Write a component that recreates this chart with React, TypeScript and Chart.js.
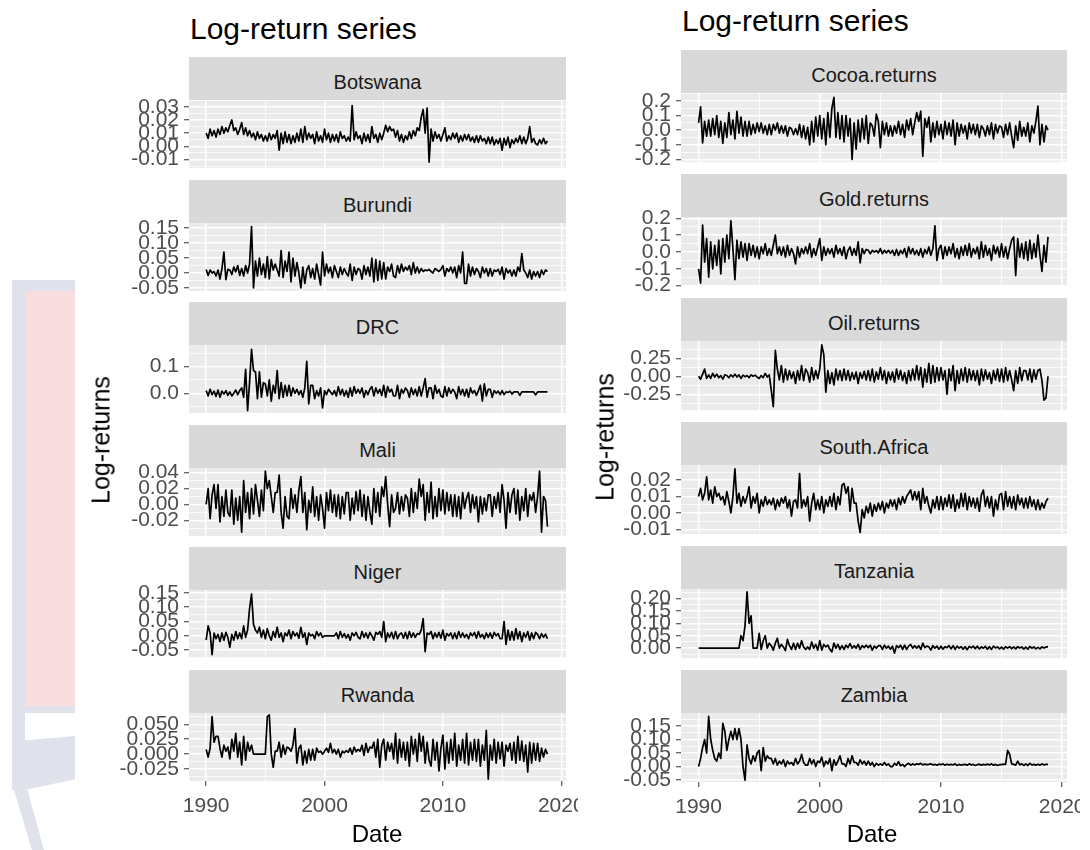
import React, { useEffect, useRef } from 'react';
import { Chart, registerables } from 'chart.js';

Chart.register(...registerables);

// ---------------- DATA (bi-monthly samples, Jan 1990 – Nov 2018) ----------------
const sampleDates: number[] = Array.from({ length: 174 }, (_, i) => 1990 + i / 6);

const xMajorTicks = [1990, 2000, 2010, 2020];
const xMinorTicks = [1995, 2005, 2015];

const botswana = [
  .010, .006, .013, .008, .012, .007, .013, .009, .015, .010, .014, .011,
  .016, .020, .012, .014, .009, .013, .018, .009, .014, .008, .012, .007,
  .010, .005, .011, .006, .009, .004, .008, .004, .010, .005, .009, .006,
  .012, -.003, .010, .002, .011, .003, .009, .002, .008, .003, .010, .004,
  .013, .003, .015, .005, .010, .006, .009, .002, .011, .004, .008, .003,
  .013, .005, .010, .003, .009, .004, .009, .003, .011, .006, .008, .004,
  .007, .004, .031, .005, .011, .006, .008, .002, .010, .004, .009, .003,
  .015, .006, .009, .003, .010, .005, .010, .016, .011, .015, .012, .013,
  .007, .012, .004, .009, .003, .008, .005, .011, .006, .012, .008, .014,
  .012, .022, .028, .010, .029, -.012, .013, .004, .011, .006, .009, .004,
  .009, .014, .004, .008, .005, .010, .006, .010, .003, .008, .004, .009,
  .005, .009, .004, .007, .003, .008, .003, .008, .004, .006, .002, .007,
  .002, .007, .001, .005, .002, .006, -.003, .006, .001, .007, -.001, .005,
  .002, .006, .003, .008, .002, .007, .002, .006, .015, .003, .006, .002,
  .001, .005, .002, .006, .002, .004,
];
const burundi = [
  .012, -.008, .010, .000, .005, -.010, .010, -.020, .015, .070, -.022, .012,
  .010, -.005, .020, .004, .025, -.008, .015, -.010, .025, .000, .030, .155,
  -.050, .040, -.010, .050, -.005, .030, -.015, .055, -.020, .045, .010, .030,
  .010, -.010, .075, -.015, .040, .005, .070, -.030, .050, -.010, .035, .000,
  -.050, .020, -.035, .010, .025, -.015, .015, -.020, .030, -.005, -.040, .070,
  -.010, .030, .000, .020, -.015, .025, .005, -.015, .020, -.005, .015, .000,
  -.010, .030, -.025, .020, -.005, .015, .010, -.020, .025, -.005, .020, -.010,
  .050, -.030, .045, -.025, .040, -.020, .035, -.020, .020, .005, .030, -.010,
  -.015, .025, .000, .030, .005, .020, .010, .025, -.005, .035, .000, .020,
  .000, .015, .005, .010, .008, .012, .005, .000, .015, .010, .005, .012,
  .025, -.010, .015, .005, .020, .000, .020, -.015, .025, .000, .070, -.035,
  -.035, .030, -.010, .020, -.005, .015, .005, -.015, .020, .000, .015, -.010,
  .015, -.010, .010, .005, .012, -.005, .020, -.020, .015, .000, .010, -.010,
  .010, -.010, .020, .005, .065, .010, .000, -.015, .010, -.020, .005, -.010,
  .005, -.015, .010, -.005, .010, .005,
];
const drc = [
  .010, -.010, .015, -.005, .008, -.012, .012, -.015, .008, -.003, .010, -.008,
  .005, -.010, .000, .012, -.005, .010, .020, -.015, .090, -.065, .040, .165,
  .085, .080, -.020, .080, -.015, .040, .035, -.010, .050, -.030, .030, .000,
  .085, -.020, .040, -.015, .030, -.010, .030, -.010, .020, .000, .015, -.005,
  .010, -.015, .020, .120, -.040, .030, .030, -.020, .010, -.010, .020, -.055,
  .010, -.005, .015, .005, -.005, .010, -.010, .025, -.005, .015, -.010, .010,
  -.015, .020, -.010, .025, .000, .015, .000, .020, -.015, .010, -.005, .015,
  .025, -.010, .020, .000, .015, -.008, .030, -.015, .025, .005, .015, -.010,
  -.010, .030, -.020, .015, .000, .020, .010, -.015, .020, -.005, .015, -.010,
  .025, -.010, .020, .055, -.015, .020, .020, -.020, .030, .000, .015, -.010,
  -.015, .025, -.010, .020, .000, .015, .005, -.020, .025, -.005, .015, -.010,
  .015, -.015, .020, .000, .010, -.008, .010, .030, -.030, .035, -.010, .015,
  .015, -.015, .010, .000, .008, -.005, .010, -.005, .005, .003, .008, -.003,
  .005, .005, .005, -.008, .005, .005, .005, .005, .005, .005, .005, -.006,
  .005, .005, .005, .005, .005, .005,
];
const mali = [
  .000, .020, -.018, .012, .025, -.005, .025, -.022, .010, -.015, .018, -.010,
  -.015, .018, -.025, .008, -.020, .010, -.035, .030, -.010, .015, -.018, .020,
  -.012, .025, .005, -.015, .018, -.008, .042, .020, .030, .010, -.010, .015,
  .015, .037, -.010, -.030, .010, -.015, -.018, .020, -.005, .012, -.010, .018,
  .035, -.010, .015, -.032, .005, -.010, .022, -.015, .010, -.020, .012, -.005,
  -.030, .015, -.008, .018, -.010, .012, -.015, .012, -.018, .010, -.012, .015,
  .015, -.020, .008, -.012, .016, -.008, .018, -.015, .012, -.020, .010, -.010,
  -.025, .020, -.010, .015, -.015, .022, .010, .035, .000, -.028, .012, -.010,
  -.005, .015, -.012, .010, -.008, .012, .008, -.015, .020, -.010, .015, -.005,
  .032, .010, .025, -.020, .015, -.010, .028, -.018, .010, -.015, .020, -.008,
  .018, -.012, .015, -.008, .012, -.015, .012, -.015, .010, -.018, .015, -.005,
  .008, .015, -.010, .012, -.005, .010, -.022, .010, -.012, .008, -.008, .012,
  .012, -.015, .010, -.005, .015, -.010, .025, .005, -.030, .015, -.010, .012,
  .020, -.012, .018, -.020, .010, -.008, .020, -.015, .012, .005, .015, -.010,
  .010, .042, -.035, .010, .005, -.028,
];
const niger = [
  -.015, .035, .010, -.065, .010, -.010, .005, -.020, .010, -.015, .012, -.005,
  -.040, .005, -.015, .015, -.010, .010, -.010, .035, -.005, .020, .095, .145,
  .040, .020, .010, .030, -.005, .020, -.010, .025, .000, -.015, .015, -.005,
  .030, -.005, .010, -.020, .010, .000, .020, -.010, .015, .000, .010, -.008,
  .030, -.005, .010, -.030, .010, .000, .005, -.010, .015, .000, .010, -.005,
  .000, .000, .000, .000, .000, .000, .010, -.010, .015, -.005, .008, -.008,
  .005, -.015, .010, .000, .012, -.005, -.010, .015, -.005, .010, -.008, .012,
  .000, -.015, .012, .005, .015, -.005, .050, -.020, .010, -.005, .012, -.010,
  .015, -.010, .005, .010, -.008, .012, -.010, .015, -.005, .010, -.005, .008,
  .005, .020, .060, -.055, .010, .005, .015, -.010, .010, -.005, .012, -.008,
  .020, -.015, .008, .000, .010, -.010, .010, -.010, .015, -.005, .010, -.005,
  .005, -.010, .010, .000, .012, -.008, .015, -.005, .005, -.010, .010, -.005,
  .010, -.008, .012, .000, .008, -.010, -.010, .050, -.030, .020, -.015, .015,
  -.015, .025, -.010, .015, -.020, .010, -.005, .015, -.015, .010, -.010, .012,
  .005, -.010, .008, -.005, .006, -.010,
];
const rwanda = [
  .008, -.005, .010, .063, .020, .030, .030, .010, -.005, .015, .005, .012,
  -.008, .025, .005, .035, -.005, .020, -.018, .030, -.010, .020, .005, .015,
  .000, .000, .000, .000, .000, .000, .000, .063, .066, .000, -.022, .005,
  .005, .020, -.005, .015, .000, .012, .010, .005, .015, .043, -.015, .010,
  .015, -.018, .005, -.015, .008, -.010, .008, -.010, .010, .003, .005, .000,
  .005, .010, .003, .018, .002, .008, .000, .008, -.005, .005, .002, .006,
  .003, .010, .000, .012, .004, .008, .005, .015, -.002, .018, .003, .012,
  .010, .020, -.005, .025, -.022, .015, .025, -.010, .020, .005, .018, -.008,
  .035, -.015, .025, -.005, .020, -.010, .020, -.020, .030, .000, .025, -.012,
  .035, .005, .030, -.015, .020, -.010, -.020, .025, -.010, .020, -.028, .010,
  .032, -.025, .020, -.015, .025, -.010, .035, -.020, .015, -.010, .025, -.015,
  .035, -.018, .020, -.010, .025, -.012, .025, -.020, .015, -.010, .040, -.042,
  .015, -.010, .025, -.015, .020, -.008, .020, -.020, .015, .005, .018, -.010,
  .020, -.015, .030, -.010, .022, -.012, .015, -.030, .020, -.015, .018, -.010,
  .018, -.012, .010, -.005, .008, .000,
];
const cocoa = [
  .050, .160, -.087, .060, -.040, .070, -.040, .080, -.030, .100, -.050, .060,
  -.090, .050, -.050, .120, -.030, .070, -.060, .130, -.020, .090, -.040, .060,
  -.040, .060, -.030, .040, -.020, .050, -.010, .050, -.020, .030, -.030, .040,
  -.030, .040, .000, .050, -.020, .030, -.020, .030, -.040, .020, .010, -.030,
  .010, -.030, .040, -.050, .030, -.060, .020, -.100, .060, -.080, .090, -.040,
  .100, -.060, .080, -.100, .120, -.050, .150, .225, -.050, .120, -.060, .100,
  -.080, .100, -.040, .080, -.200, .050, -.130, .070, -.080, .080, -.060, .100,
  -.090, .050, .030, -.040, .110, .060, -.120, .060, -.030, .050, -.040, .030,
  -.040, .030, -.020, .060, -.030, .040, -.050, .070, .000, .080, -.030, .050,
  .120, .060, .130, -.180, .080, .020, .090, -.080, .050, -.050, .060, -.030,
  .040, -.060, .060, -.030, .050, -.040, .070, -.100, .050, -.040, .040, -.020,
  .030, -.060, .050, -.020, .040, -.030, .040, -.050, .030, .010, -.040, .030,
  -.030, .050, -.060, .040, -.020, .030, .020, -.050, .040, -.030, .050, -.040,
  -.120, .030, -.070, .060, -.040, .020, -.040, .050, -.080, .030, -.020, .060,
  .165, -.100, .040, -.080, .030, .000,
];
const gold = [
  -.100, -.185, .160, -.060, .080, -.150, .060, -.100, .040, -.080, .070, -.130,
  .080, -.060, .100, -.040, .185, .020, -.165, .070, -.040, .060, -.030, .050,
  -.050, .050, -.020, .040, -.030, .030, -.040, .030, -.010, .050, -.020, .020,
  -.020, .040, .100, -.010, .030, -.020, .030, -.030, .040, -.020, .020, -.010,
  -.070, .030, -.030, .020, -.010, .030, -.010, .050, -.030, .020, -.020, .030,
  .080, -.050, .030, -.020, .020, -.010, .020, -.030, .040, -.010, .020, -.020,
  .030, -.040, .010, .030, -.020, .020, -.020, .060, -.065, .020, -.010, .015,
  .010, -.010, .010, .000, .008, -.005, .020, -.010, .010, -.005, .010, -.008,
  .010, -.020, .015, -.020, .010, -.010, .020, -.030, .030, -.010, .020, -.015,
  .010, -.020, .020, -.030, .015, -.010, .030, -.020, .020, .155, -.050, .020,
  .040, -.040, .030, -.020, .030, -.010, .050, -.030, .020, -.040, .030, -.020,
  .040, -.020, .050, -.030, .020, -.010, .030, -.040, .060, -.030, .040, -.020,
  .020, -.050, .040, -.010, .030, -.030, .050, -.030, .030, -.040, .020, .070,
  .090, -.140, .080, -.030, .050, -.040, .060, -.050, .070, -.040, .050, -.030,
  .100, -.020, -.115, .040, -.060, .090,
];
const oil = [
  .000, -.040, .030, .100, -.030, .020, -.030, .040, -.010, .030, -.020, .010,
  -.040, .020, .010, -.020, .020, -.010, .030, -.010, .020, -.030, .015, -.005,
  .010, -.020, .020, .000, .015, -.010, -.030, .010, -.020, .040, -.010, .020,
  -.200, -.420, .360, .100, -.050, .150, -.080, .100, -.050, .080, -.030, .060,
  -.100, .080, -.050, .150, -.060, .100, .050, -.080, .120, -.050, .080, -.030,
  .100, .435, .300, -.220, .080, -.100, .050, -.120, .100, -.050, .080, -.060,
  .100, -.050, .080, -.060, .050, -.040, .060, -.100, .050, -.030, .070, -.050,
  .080, -.060, .100, -.080, .060, -.040, .120, -.050, .080, -.100, .060, -.050,
  .060, -.080, .100, -.040, .080, -.060, .050, -.100, .080, -.060, .100, -.050,
  .150, -.050, .120, -.150, .100, -.080, .180, -.100, .150, -.080, .120, -.060,
  .120, -.050, .080, -.250, .100, -.060, .150, -.200, .080, -.100, .100, -.060,
  .120, -.080, .100, -.050, .080, -.060, .080, -.120, .100, -.060, .090, -.040,
  .050, -.100, .080, -.050, .100, -.070, .100, -.080, .120, -.060, .080, -.050,
  -.200, .080, -.100, .120, -.060, .080, .080, -.050, .100, -.080, .090, -.040,
  .080, .100, -.060, -.330, -.300, .000,
];
const southAfrica = [
  .010, .015, .008, .012, .022, .008, .014, .006, .016, .010, .012, .008,
  .010, .005, .013, .007, .000, .010, .027, .006, .012, .004, .010, .006,
  .010, .016, .003, .010, .006, .012, .000, .008, .004, .010, .005, .008,
  .005, .009, .002, .008, .004, .009, .006, .010, .003, .008, -.002, .007,
  .008, .003, .024, .003, .008, .004, .010, -.005, .006, .012, .002, .008,
  .002, .010, .000, .008, .004, .010, .004, .012, .002, .010, .005, .017,
  .018, .012, .016, .001, .015, .006, .006, -.005, -.012, .002, -.003, .004,
  .000, .006, -.002, .005, .001, .006, .002, .007, .000, .006, .003, .008,
  .004, .008, .002, .009, .005, .010, .006, .010, .012, .014, .008, .013,
  .008, .013, .002, .015, .006, .010, .004, .000, .008, .003, .010, .002,
  .010, .002, .009, .004, .011, .003, .011, .001, .008, .003, .012, .004,
  .012, .002, .010, .004, .009, .003, .009, .001, .011, .014, .004, .010,
  .003, .010, -.002, .008, .002, .011, .012, .002, .013, .004, .010, .003,
  .010, .002, .011, .005, .009, .003, .009, .003, .010, .004, .008, .002,
  .008, .002, .006, .003, .007, .009,
];
const tanzania = [
  .000, .000, .000, .000, .000, .000, .000, .000, .000, .000, .000, .000,
  .000, .000, .000, .000, .000, .000, .000, .000, .000, .050, .030, .090,
  .227, .100, .130, .000, .000, .000, .060, -.005, .030, .050, .000, .020,
  .010, -.008, .020, .040, .000, .015, .005, -.010, .035, .010, -.005, .020,
  -.005, .020, .000, .030, .005, -.005, .005, -.005, .025, .000, .015, -.008,
  .030, -.008, .015, .005, .012, -.005, -.015, .020, .000, .015, -.005, .010,
  -.005, .012, .002, .018, .000, .010, .000, .015, -.005, .010, .002, .012,
  .002, .012, -.008, .008, .000, .010, .010, -.005, .012, .000, .008, -.004,
  .008, -.020, .010, .002, .012, -.005, .012, -.005, .008, .015, .000, .010,
  .000, .010, -.005, .020, .002, .008, .005, -.008, .010, .000, .008, -.004,
  .008, -.004, .006, .002, .010, -.003, .010, -.005, .008, .000, .006, -.004,
  .006, -.006, .007, .001, .008, -.002, .008, -.003, .005, .000, .007, -.004,
  .006, -.005, .008, .001, .005, -.003, .004, -.004, .006, .000, .006, -.002,
  .005, -.003, .006, .001, .005, -.004, .004, -.004, .007, .000, .005, -.003,
  .003, -.003, .005, .001, .004, .006,
];
const zambia = [
  .000, .030, .070, .100, .050, .186, .100, .060, .030, .020, .050, .030,
  .160, .130, .060, .100, .130, .100, .140, .100, .140, .100, .000, -.050,
  .080, .030, .010, .040, .020, .050, .060, -.015, .070, .020, .040, .030,
  .030, .010, .030, .005, .020, .010, .025, .000, .020, .010, .015, .005,
  .030, .010, .020, .045, .015, .005, .005, .030, .010, .025, .000, .020,
  .015, .035, .000, .020, .010, .030, -.015, .025, .005, .020, .040, .010,
  .010, .000, .030, .010, .040, .015, .015, .005, .025, .010, .020, .005,
  .020, .005, .015, .000, .012, .005, .010, .005, .015, .005, .010, .000,
  .000, .012, .005, .018, .003, .008, .000, .008, .012, .005, .010, .006,
  .010, .008, .012, .006, .009, .007, .008, .010, .006, .008, .005, .009,
  .007, .010, .005, .009, .006, .008, .006, .010, .004, .008, .005, .007,
  .008, .005, .010, .006, .008, .004, .007, .009, .005, .008, .006, .009,
  .006, .010, .005, .008, .004, .007, .007, .009, .008, .060, .045, .010,
  .008, .005, .020, .006, .010, .004, .010, .004, .012, .006, .008, .005,
  .009, .005, .010, .006, .008, .008,
];

// y-axis breaks per panel
const botswanaTicks = [-0.01, 0, 0.01, 0.02, 0.03];
const burundiTicks = [-0.05, 0, 0.05, 0.1, 0.15];
const drcTicks = [0, 0.1];
const maliTicks = [-0.02, 0, 0.02, 0.04];
const nigerTicks = [-0.05, 0, 0.05, 0.1, 0.15];
const rwandaTicks = [-0.025, 0, 0.025, 0.05];
const cocoaTicks = [-0.2, -0.1, 0, 0.1, 0.2];
const goldTicks = [-0.2, -0.1, 0, 0.1, 0.2];
const oilTicks = [-0.25, 0, 0.25];
const southAfricaTicks = [-0.01, 0, 0.01, 0.02];
const tanzaniaTicks = [0, 0.05, 0.1, 0.15, 0.2];
const zambiaTicks = [-0.05, 0, 0.05, 0.1, 0.15];

type PanelCfg = { name: string; values: number[]; ticks: number[]; decimals: number; min: number; max: number };

const leftPanels: PanelCfg[] = [
  { name: 'Botswana', values: botswana, ticks: botswanaTicks, decimals: 2, min: -0.0165, max: 0.0352 },
  { name: 'Burundi', values: burundi, ticks: burundiTicks, decimals: 2, min: -0.06, max: 0.167 },
  { name: 'DRC', values: drc, ticks: drcTicks, decimals: 1, min: -0.074, max: 0.181 },
  { name: 'Mali', values: mali, ticks: maliTicks, decimals: 2, min: -0.0398, max: 0.0459 },
  { name: 'Niger', values: niger, ticks: nigerTicks, decimals: 2, min: -0.077, max: 0.1595 },
  { name: 'Rwanda', values: rwanda, ticks: rwandaTicks, decimals: 3, min: -0.045, max: 0.069 },
];
const rightPanels: PanelCfg[] = [
  { name: 'Cocoa.returns', values: cocoa, ticks: cocoaTicks, decimals: 1, min: -0.218, max: 0.255 },
  { name: 'Gold.returns', values: gold, ticks: goldTicks, decimals: 1, min: -0.202, max: 0.208 },
  { name: 'Oil.returns', values: oil, ticks: oilTicks, decimals: 2, min: -0.468, max: 0.49 },
  { name: 'South.Africa', values: southAfrica, ticks: southAfricaTicks, decimals: 2, min: -0.0129, max: 0.0293 },
  { name: 'Tanzania', values: tanzania, ticks: tanzaniaTicks, decimals: 2, min: -0.0396, max: 0.238 },
  { name: 'Zambia', values: zambia, ticks: zambiaTicks, decimals: 2, min: -0.057, max: 0.198 },
];

// ---------------- STYLE / LAYOUT ----------------
const FONT = "'Liberation Sans', Arial, Helvetica, sans-serif";
const X_MIN = 1988.55;
const X_MAX = 2020.4;
const YW = 110; // y-axis width in px
const PAD_T = 12;
const TICK_FONT = 21;

const bgPlugin = {
  id: 'panelBg',
  beforeDraw(chart: any) {
    const { ctx, chartArea: a } = chart;
    ctx.save();
    ctx.fillStyle = '#EBEBEB';
    ctx.fillRect(a.left, a.top, a.right - a.left, a.bottom - a.top);
    ctx.restore();
  },
};

function PanelChart(props: { cfg: PanelCfg; left: number; top: number; plotW: number; plotH: number; bottom: boolean; clipRight: number }) {
  const { cfg, left, top, plotW, plotH, bottom, clipRight } = props;
  const ref = useRef<HTMLCanvasElement>(null);
  const xAxisH = bottom ? 40 : 0;
  const padB = bottom ? 0 : 12;
  const padR = bottom ? clipRight : 0;
  const w = YW + plotW + padR;
  const h = PAD_T + plotH + xAxisH + padB;

  useEffect(() => {
    if (!ref.current) return;
    const majors = cfg.ticks;
    const step = majors.length > 1 ? majors[1] - majors[0] : 0.1;
    const yTickVals: number[] = [];
    for (let k = -2; k < majors.length * 2 + 4; k++) {
      const v = majors[0] + (k * step) / 2;
      if (v >= cfg.min - 1e-9 && v <= cfg.max + 1e-9) yTickVals.push(v);
    }
    const isMajorY = (v: number) => majors.some((m) => Math.abs(m - v) < step * 1e-3);
    const isMajorX = (v: number) => xMajorTicks.some((m) => Math.abs(m - v) < 1e-6);
    const xTickVals = [...xMajorTicks, ...xMinorTicks].sort((a, b) => a - b);

    const chart = new Chart(ref.current, {
      type: 'line',
      data: {
        datasets: [
          {
            data: sampleDates.map((d, i) => ({ x: d, y: cfg.values[i] })),
            borderColor: '#000000',
            borderWidth: 1.7,
            borderJoinStyle: 'round',
            pointRadius: 0,
            tension: 0,
            fill: false,
          },
        ],
      },
      options: {
        animation: false,
        responsive: false,
        events: [],
        layout: { padding: { top: PAD_T, bottom: padB, left: 0, right: padR } },
        plugins: { legend: { display: false }, tooltip: { enabled: false } },
        scales: {
          x: {
            type: 'linear',
            min: X_MIN,
            max: X_MAX,
            afterBuildTicks: (s: any) => {
              s.ticks = xTickVals.map((v) => ({ value: v }));
            },
            afterFit: (s: any) => {
              s.height = xAxisH;
              s.paddingLeft = 0;
              s.paddingRight = 0;
            },
            ticks: {
              display: bottom,
              autoSkip: false,
              maxRotation: 0,
              padding: 8,
              color: '#4D4D4D',
              font: { family: FONT, size: TICK_FONT },
              callback: (v: any) => (isMajorX(Number(v)) ? String(v) : ''),
            },
            grid: {
              color: '#FFFFFF',
              lineWidth: (c: any) => (c.tick && isMajorX(c.tick.value) ? 1.5 : 0.8),
              drawTicks: bottom,
              tickLength: 5,
              tickWidth: 1,
              tickColor: (c: any) => (c.tick && isMajorX(c.tick.value) ? '#333333' : 'rgba(0,0,0,0)'),
            },
            border: { display: false },
          },
          y: {
            type: 'linear',
            min: cfg.min,
            max: cfg.max,
            afterBuildTicks: (s: any) => {
              s.ticks = yTickVals.map((v) => ({ value: v }));
            },
            afterFit: (s: any) => {
              s.width = YW;
              s.paddingTop = 0;
              s.paddingBottom = 0;
            },
            ticks: {
              autoSkip: false,
              padding: 5,
              color: '#4D4D4D',
              font: { family: FONT, size: TICK_FONT },
              callback: (v: any) => (isMajorY(Number(v)) ? Number(v).toFixed(cfg.decimals) : ''),
            },
            grid: {
              color: '#FFFFFF',
              lineWidth: (c: any) => (c.tick && isMajorY(c.tick.value) ? 1.5 : 0.8),
              drawTicks: true,
              tickLength: 5,
              tickWidth: 1,
              tickColor: (c: any) => (c.tick && isMajorY(c.tick.value) ? '#333333' : 'rgba(0,0,0,0)'),
            },
            border: { display: false },
          },
        },
      } as any,
      plugins: [bgPlugin],
    });
    return () => chart.destroy();
  }, []);

  return (
    <canvas
      ref={ref}
      width={w}
      height={h}
      style={{ position: 'absolute', left, top: top - PAD_T, width: w, height: h }}
    />
  );
}

function Column(props: { panels: PanelCfg[]; plotLeft: number; plotW: number; stripTops: number[]; plotH: number; clipRight: number; stripLine: number }) {
  const { panels, plotLeft, plotW, stripTops, plotH, clipRight, stripLine } = props;
  return (
    <>
      {panels.map((p, i) => (
        <div
          key={'s' + p.name}
          style={{
            position: 'absolute',
            left: plotLeft,
            top: stripTops[i],
            width: plotW,
            height: 43,
            background: '#D9D9D9',
            color: '#1A1A1A',
            fontFamily: FONT,
            fontSize: 20,
            lineHeight: stripLine + 'px',
            textAlign: 'center',
            whiteSpace: 'nowrap',
          }}
        >
          {p.name}
        </div>
      ))}
      {panels.map((p, i) => (
        <PanelChart
          key={'c' + p.name}
          cfg={p}
          left={plotLeft - YW}
          top={stripTops[i] + 43}
          plotW={plotW}
          plotH={plotH}
          bottom={i === panels.length - 1}
          clipRight={clipRight}
        />
      ))}
    </>
  );
}

const textBase: React.CSSProperties = { position: 'absolute', fontFamily: FONT, color: '#000000', whiteSpace: 'nowrap', lineHeight: 1 };

export default function App() {
  return (
    <div style={{ position: 'absolute', left: 0, top: 0, width: 1090, height: 850, background: '#FFFFFF', overflow: 'hidden' }}>
      {/* faint background watermark on the left edge */}
      <div style={{ position: 'absolute', left: 12, top: 280, width: 63, height: 11, background: '#DFE2EB' }} />
      <div style={{ position: 'absolute', left: 12, top: 280, width: 13, height: 470, background: '#DFE2EB' }} />
      <div style={{ position: 'absolute', left: 25, top: 291, width: 50, height: 415, background: '#F9DEDF' }} />
      <div style={{ position: 'absolute', left: 25, top: 706, width: 50, height: 7, background: '#DFE2EB' }} />
      <div style={{ position: 'absolute', left: 12, top: 736, width: 63, height: 54, background: '#DFE2EB', clipPath: 'polygon(0 10%, 100% 0, 100% 80%, 20% 100%, 0 100%)' }} />
      <div style={{ position: 'absolute', left: 14, top: 790, width: 30, height: 60, background: '#DFE2EB', clipPath: 'polygon(0 0, 45% 0, 100% 100%, 60% 100%)' }} />

      <div style={{ ...textBase, left: 190, top: 14, fontSize: 30 }}>Log-return series</div>
      <div style={{ ...textBase, left: 682, top: 6, fontSize: 30 }}>Log-return series</div>

      <Column
        panels={leftPanels}
        plotLeft={189}
        plotW={377}
        stripTops={[57, 179.6, 302.2, 424.8, 547.4, 670]}
        plotH={68}
        clipRight={12}
        stripLine={51}
      />
      <Column
        panels={rightPanels}
        plotLeft={681}
        plotW={386}
        stripTops={[50, 174, 298, 422, 546, 670]}
        plotH={69}
        clipRight={13}
        stripLine={50}
      />

      <div style={{ ...textBase, left: 101, top: 440, fontSize: 25, transform: 'translate(-50%, -50%) rotate(-90deg)' }}>Log-returns</div>
      <div style={{ ...textBase, left: 605, top: 437, fontSize: 25, transform: 'translate(-50%, -50%) rotate(-90deg)' }}>Log-returns</div>

      <div style={{ ...textBase, left: 377, top: 822, fontSize: 24, transform: 'translateX(-50%)' }}>Date</div>
      <div style={{ ...textBase, left: 872, top: 822, fontSize: 24, transform: 'translateX(-50%)' }}>Date</div>
    </div>
  );
}
